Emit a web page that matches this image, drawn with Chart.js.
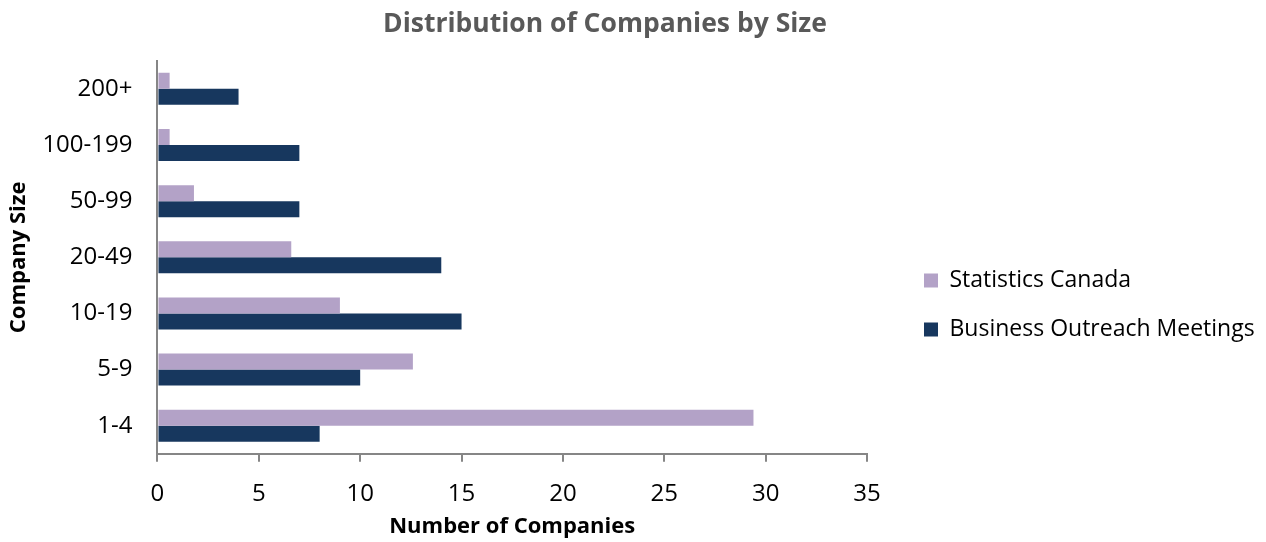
<!DOCTYPE html>
<html>
<head>
<meta charset="utf-8">
<script src="https://cdn.jsdelivr.net/npm/chart.js@4"></script>
<style>
  html, body { margin: 0; padding: 0; background: #fff; }
  #wrap { width: 1266px; height: 542px; }
</style>
</head>
<body>
<div id="wrap"><canvas id="size-chart"></canvas></div>
<script>
  // Company size buckets, top to bottom
  const categories = ["200+", "100-199", "50-99", "20-49", "10-19", "5-9", "1-4"];
  const statsCanada = [0.6, 0.6, 1.8, 6.6, 9.0, 12.6, 29.4];
  const outreachMeetings = [4, 7, 7, 14, 15, 10, 8];
  const xTicks = [0, 5, 10, 15, 20, 25, 30, 35];

  const FONT = "'Open Sans', sans-serif";
  const AXIS_GREY = "#868686";

  // legend sits a fixed distance right of the plot, title is nudged left
  const LEGEND_WIDTH = 399;
  const LEGEND_SHIFT = 31;
  const LEGEND_DROP = 35;
  const TITLE_SHIFT = -31;

  const layoutTweaks = {
    id: "layoutTweaks",
    beforeLayout(chart) {
      const legend = chart.legend;
      if (legend && !legend._fixedFit) {
        const fit = legend.fit;
        legend.fit = function () {
          fit.call(this);
          this.width = LEGEND_WIDTH;
        };
        legend._fixedFit = true;
      }
    },
    afterLayout(chart) {
      if (chart.legend) {
        chart.legend.left += LEGEND_SHIFT;
        chart.legend.top += LEGEND_DROP;
        chart.legend.bottom += LEGEND_DROP;
      }
      if (chart.titleBlock) {
        chart.titleBlock.left += TITLE_SHIFT;
        chart.titleBlock.right += TITLE_SHIFT;
      }
    },
  };

  const data = {
    labels: categories,
    datasets: [
      {
        label: "Statistics Canada",
        data: statsCanada,
        backgroundColor: "#B3A2C7",
      },
      {
        label: "Business Outreach Meetings",
        data: outreachMeetings,
        backgroundColor: "#17375E",
      },
    ],
  };

  const config = {
    type: "bar",
    data: data,
    plugins: [layoutTweaks],
    options: {
      indexAxis: "y",
      responsive: true,
      maintainAspectRatio: false,
      animation: false,
      devicePixelRatio: 1,
      categoryPercentage: 0.57,
      barPercentage: 1.0,
      layout: {
        padding: { left: 6, right: 0, top: 0, bottom: 2 },
      },
      plugins: {
        title: {
          display: true,
          text: "Distribution of Companies by Size",
          color: "#595959",
          font: { family: FONT, size: 26.5, weight: "bold" },
          padding: { top: 9, bottom: 20 },
        },
        legend: {
          position: "right",
          align: "center",
          labels: {
            color: "#000",
            font: { family: FONT, size: 23 },
            boxWidth: 14,
            boxHeight: 14,
            padding: 26,
          },
        },
        tooltip: { enabled: false },
      },
      scales: {
        x: {
          min: xTicks[0],
          max: xTicks[xTicks.length - 1],
          ticks: {
            stepSize: xTicks[1] - xTicks[0],
            color: "#000",
            font: { family: FONT, size: 24 },
            padding: 18,
          },
          grid: {
            drawOnChartArea: false,
            drawTicks: true,
            tickLength: 8,
            color: AXIS_GREY,
            lineWidth: 2,
          },
          border: { color: AXIS_GREY, width: 2 },
          title: {
            display: true,
            text: "Number of Companies",
            color: "#000",
            font: { family: FONT, size: 22, weight: "bold" },
            // tick padding is counted twice in the axis height, take it back here
            padding: { top: -13, bottom: 0 },
          },
        },
        y: {
          ticks: {
            color: "#000",
            font: { family: FONT, size: 24 },
            padding: 25,
          },
          grid: {
            drawOnChartArea: false,
            drawTicks: false,
          },
          border: { color: AXIS_GREY, width: 2 },
          title: {
            display: true,
            text: "Company Size",
            color: "#000",
            font: { family: FONT, size: 22, weight: "bold" },
            padding: { top: 0, bottom: -15 },
          },
        },
      },
    },
  };

  const chart = new Chart(document.getElementById("size-chart"), config);
</script>
</body>
</html>
